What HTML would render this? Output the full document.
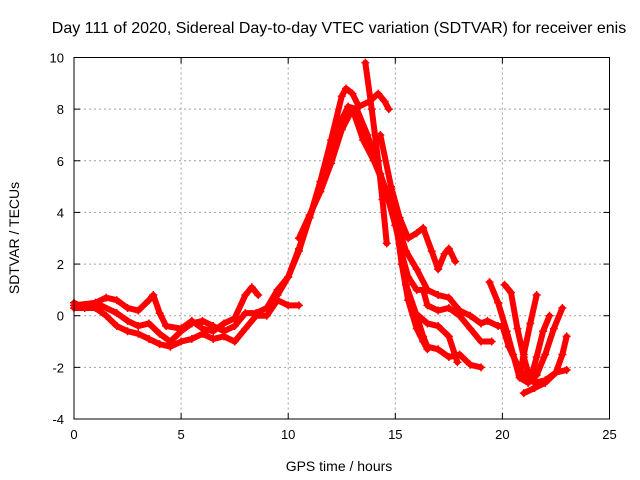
<!DOCTYPE html>
<html><head><meta charset="utf-8"><style>
body{margin:0;background:#fff}
svg{display:block;font-family:"Liberation Sans",Arial,sans-serif}
</style></head><body>
<svg id="chart" width="640" height="480">
<rect width="640" height="480" fill="#fff"/>
<text x="339" y="33" font-size="16" text-anchor="middle">Day 111 of 2020, Sidereal Day-to-day VTEC variation (SDTVAR) for receiver enis</text>
<text x="339" y="471" font-size="14" text-anchor="middle">GPS time / hours</text>
<text transform="translate(19,238) rotate(-90)" font-size="14" text-anchor="middle">SDTVAR / TECUs</text>
<g id="grid"></g><g id="series"></g><g id="axes"></g>
</svg>
<script>
const xTicks=[0,5,10,15,20,25];
const yTicks=[-4,-2,0,2,4,6,8,10];
const tracks=[
[[0,0.5],[0.5,0.3],[1,0.5],[1.5,0.7],[2,0.6],[2.5,0.3],[3,0.2],[3.5,0.6],[3.7,0.8],[4,0.1],[4.3,-0.4],[5,-0.5],[5.5,-0.2],[6,-0.5],[6.5,-0.6],[7,-0.3],[7.5,-0.1],[8,0.8],[8.3,1.1],[8.6,0.8]],
[[0,0.3],[1,0.3],[1.5,0],[2,-0.4],[2.5,-0.6],[3,-0.7],[3.5,-0.9],[4,-1.1],[4.5,-1.2],[5,-1.0],[5.5,-0.9],[6,-0.7],[6.5,-0.9],[7,-0.8],[7.5,-1.0],[8,-0.5],[8.5,0],[9,0.0],[9.5,0.6],[10,0.4],[10.5,0.4]],
[[0,0.4],[1,0.5],[2,0.1],[2.5,-0.2],[3,-0.4],[3.5,-0.3],[4,-0.7],[4.5,-1.0],[5,-0.6],[5.5,-0.3],[6,-0.2],[6.5,-0.4],[7,-0.6],[7.5,-0.4],[8,0.1],[8.5,0.1],[9,0.3],[9.5,1.0],[10,1.5],[10.5,2.5],[11,3.8],[11.5,5.0],[12,6.2],[12.5,7.6],[12.8,8.1],[13.2,8.0],[13.7,7.0],[14.3,5.5],[15,3.8],[15.3,2.0],[15.6,0.6],[16,-0.5],[16.3,-1.0],[16.5,-1.3]],
[[9.5,0.8],[10,1.5],[10.5,2.6],[11,3.8],[11.5,5.2],[12,6.8],[12.5,8.5],[12.7,8.8],[13,8.6],[13.3,8.1],[13.8,8.3],[14.2,8.6],[14.5,8.3],[14.7,8.0]],
[[10.5,3.0],[11,3.9],[11.5,4.8],[12,5.9],[12.5,7.2],[13,8.0],[13.5,6.8],[14,6.0],[14.5,5.0],[15,3.5],[15.3,2.4],[15.6,1.5],[16,1.0],[16.3,1.0],[16.5,0.4],[17,0.2],[17.5,0.3],[18,0],[18.5,-0.5],[19,-1.0],[19.5,-1.0]],
[[13.6,9.8],[13.9,8.0],[14.2,6.0],[14.4,4.5],[14.6,2.8]],
[[14.3,7.0],[14.8,5.0],[15.2,3.8],[15.6,3.0],[16,3.2],[16.3,3.4],[16.7,2.5],[17,1.8],[17.3,2.4],[17.5,2.6],[17.8,2.1]],
[[15,3.8],[15.5,2.5],[16,1.8],[16.5,1.0],[17,0.8],[17.5,0.7],[18,0.2],[18.5,0],[19,-0.3],[19.3,-0.2],[19.8,-0.4],[20,-0.4],[20.3,-1.2],[20.7,-1.9],[21,-2.3],[21.5,-2.6],[22,-2.5],[22.5,-2.2],[23,-2.1]],
[[15.5,1.2],[16,0],[16.3,-0.8],[16.5,-1.2],[17,-1.3],[17.5,-1.6],[18,-1.5],[18.5,-1.9],[19,-2.0]],
[[15.8,0.2],[16.5,-0.3],[17,-0.4],[17.5,-0.8],[17.9,-1.8]],
[[19.4,1.3],[19.8,0.5],[20.2,-0.6],[20.5,-1.5],[20.8,-2.4],[21.2,-2.6],[21.6,-2.3],[22,-1.5],[22.4,-0.5],[22.8,0.3]],
[[20.1,1.2],[20.4,0.9],[20.7,-0.5],[21,-1.6],[21.3,-2.5],[21.6,-1.6],[21.9,-0.6],[22.2,0]],
[[21.6,0.8],[21.3,-0.3],[21,-1.5],[20.8,-2.3]],
[[21,-3.0],[21.5,-2.8],[22,-2.6],[22.5,-2.2],[22.8,-1.5],[23,-0.8]]
];
const L=74,R=609.5,T=57.5,B=419;
const X=v=>L+(v-0)/(25-0)*(R-L);
const Y=v=>B-(v+4)/(14)*(B-T);
const NS="http://www.w3.org/2000/svg";
function mk(tag,attrs,parent){const e=document.createElementNS(NS,tag);for(const k in attrs)e.setAttribute(k,attrs[k]);parent.appendChild(e);return e;}
const grid=document.getElementById('grid'),axes=document.getElementById('axes'),series=document.getElementById('series');
xTicks.forEach(t=>{const x=X(t);
 if(t>0&&t<25){const g=mk('line',{x1:x,x2:x,y1:T,y2:B,stroke:'#a0a0a0','stroke-dasharray':'2,3','stroke-width':1},grid);
 
 }
 mk('line',{x1:x,x2:x,y1:B,y2:B-6,stroke:'#000'},axes);mk('line',{x1:x,x2:x,y1:T,y2:T+6,stroke:'#000'},axes);
 const tx=mk('text',{x:x,y:B+20,'font-size':13,'text-anchor':'middle'},axes);tx.textContent=t;
 
 });
yTicks.forEach(t=>{const y=Y(t);
 if(t>-4&&t<10){const g=mk('line',{x1:L,x2:R,y1:y,y2:y,stroke:'#a0a0a0','stroke-dasharray':'2,3','stroke-width':1},grid);
 
 }
 mk('line',{x1:L,x2:L+6,y1:y,y2:y,stroke:'#000'},axes);mk('line',{x1:R,x2:R-6,y1:y,y2:y,stroke:'#000'},axes);
 const tx=mk('text',{x:L-10,y:y+5,'font-size':13,'text-anchor':'end'},axes);tx.textContent=t;
 
 });
const fr=mk('rect',{x:L,y:T,width:R-L,height:B-T,fill:'none',stroke:'#000','stroke-width':1},axes);


tracks.forEach((tr,i)=>{
 const p=mk('polyline',{points:tr.map(d=>X(d[0])+','+Y(d[1])).join(' '),fill:'none',stroke:'#ff0000','stroke-width':6,'stroke-linejoin':'round','stroke-linecap':'round'},series);
 
 
 tr.forEach(d=>{const x=X(d[0]),y=Y(d[1]);
  const c=mk('path',{d:`M${x-4},${y}H${x+4}M${x},${y-4}V${y+4}`,stroke:'#ff0000','stroke-width':1.5},series);
  
  });
});
</script>
</body></html>
